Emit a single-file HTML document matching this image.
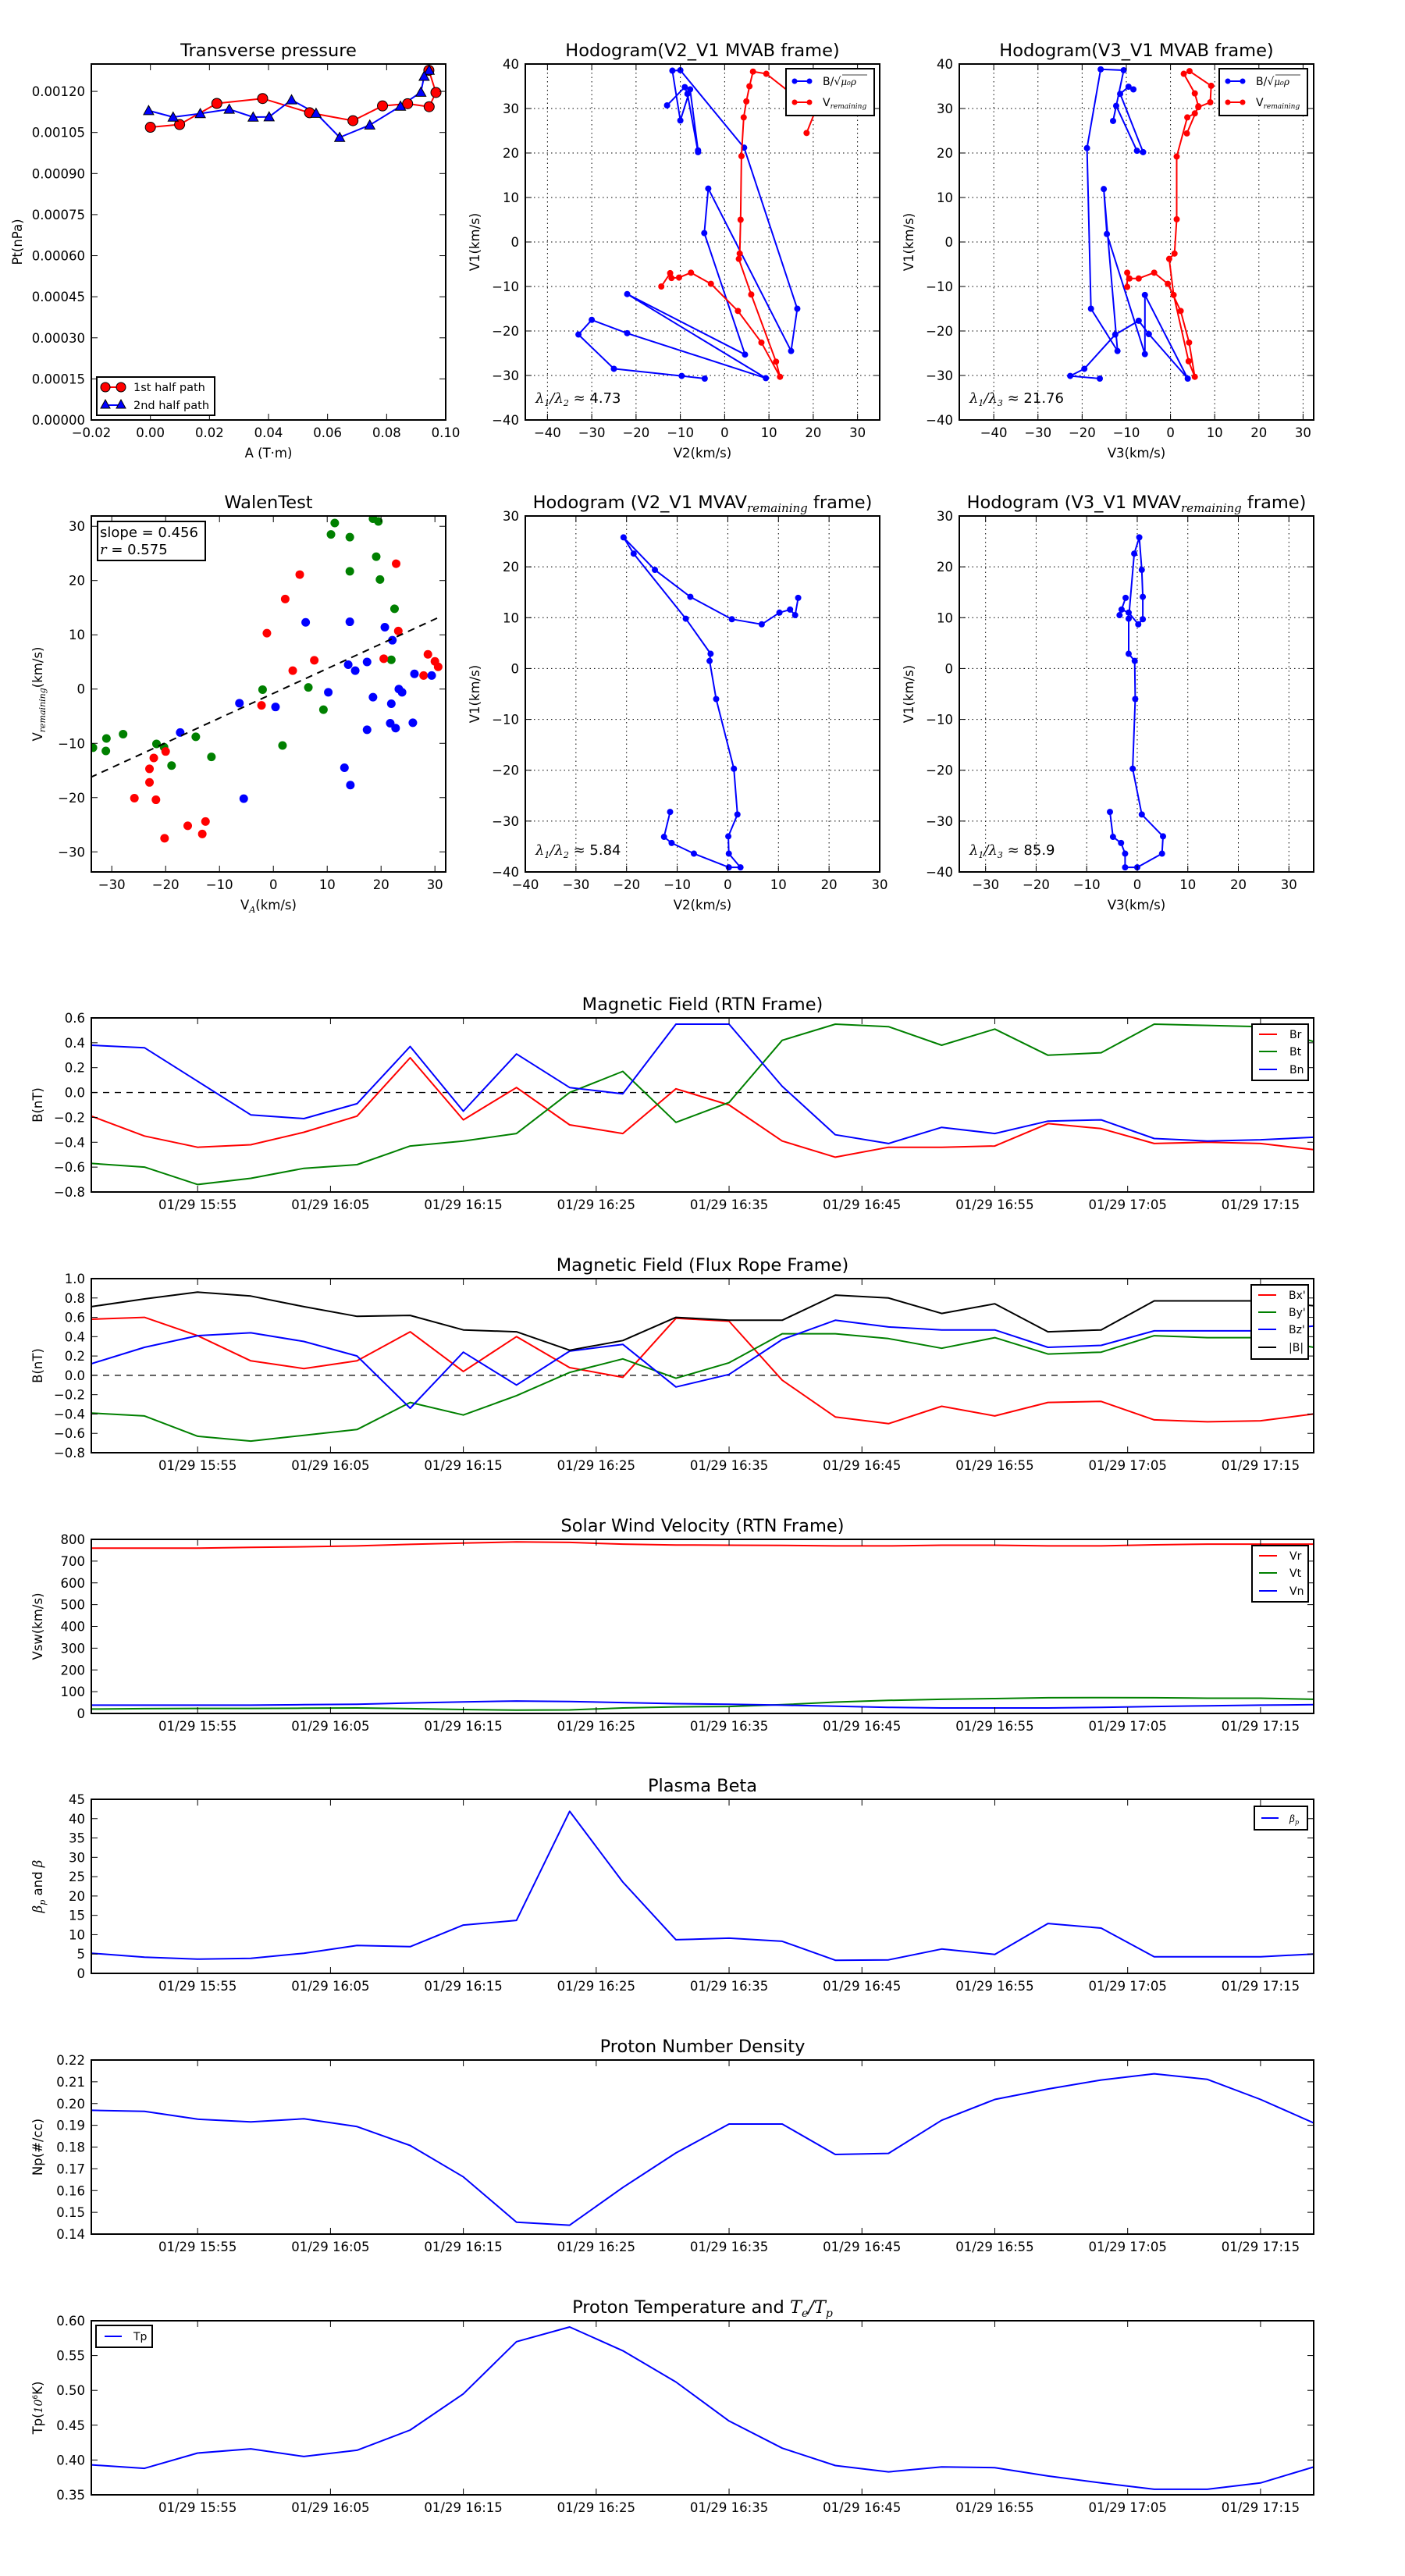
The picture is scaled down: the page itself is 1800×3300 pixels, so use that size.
<!DOCTYPE html>
<html>
<head>
<meta charset="utf-8">
<style>
html,body{margin:0;padding:0;background:#fff;}
svg{display:block;}
text{font-family:"DejaVu Sans","Liberation Sans",sans-serif;fill:#000;}
.m{font-family:"DejaVu Serif","Liberation Serif",serif;font-style:italic;}
</style>
</head>
<body>
<svg id="fig" xmlns="http://www.w3.org/2000/svg" width="1800" height="3300" viewBox="0 0 1800 3300">
<rect x="0" y="0" width="1800" height="3300" fill="#fff"/>
</svg>
<script>
// ---------- data: transverse pressure ----------
const tpA1 = [0, 0.0099, 0.0225, 0.038, 0.0539, 0.0686, 0.0786, 0.0871, 0.0944, 0.0967, 0.0943];
const tpP1 = [0.001069, 0.001079, 0.001156, 0.001174, 0.001122, 0.001093, 0.001147, 0.001155, 0.001144, 0.001196, 0.001277];
const tpA2 = [0.0944, 0.0927, 0.0916, 0.0847, 0.0743, 0.0641, 0.0561, 0.0478, 0.0402, 0.0348, 0.0267, 0.0169, 0.0077, -0.0006];
const tpP2 = [0.001277, 0.001255, 0.001197, 0.001146, 0.001077, 0.001032, 0.00112, 0.001169, 0.001107, 0.001106, 0.001135, 0.001119, 0.001106, 0.00113];
const tpXTicks = [-0.02, 0, 0.02, 0.04, 0.06, 0.08, 0.10];
const tpXLabels = ["\u22120.02", "0.00", "0.02", "0.04", "0.06", "0.08", "0.10"];
const tpYTicks = [0, 0.00015, 0.0003, 0.00045, 0.0006, 0.00075, 0.0009, 0.00105, 0.0012];
const tpYLabels = ["0.00000", "0.00015", "0.00030", "0.00045", "0.00060", "0.00075", "0.00090", "0.00105", "0.00120"];

// ---------- data: hodogram V2-V1 MVAB ----------
const h1BV2 = [-4.5, -9.7, -25, -33, -30, -22, 9.3, -22, 4.6, -4.6, -3.7, 15, 16.4, 4.4, -10, -11.8, -10, -7.8, -6, -6, -8.4, -9, -13];
const h1BV1 = [-30.7, -30.1, -28.5, -20.8, -17.5, -20.5, -30.6, -11.7, -25.3, 2, 12, -24.5, -15, 21.2, 38.6, 38.5, 27.3, 34.3, 20.6, 20.2, 33.3, 34.8, 30.7];
const h1VV2 = [-14.3, -12.3, -12, -10.3, -7.6, -3.1, 3, 8.3, 12.5, 11.6, 6, 3.2, 3.4, 3.6, 3.8, 4.3, 4.9, 5.6, 6.4, 9.4, 14.5, 20.5, 18.5];
const h1VV1 = [-10, -7, -8.1, -8, -6.9, -9.4, -15.5, -22.6, -30.3, -26.9, -11.8, -3.8, -2.6, 5, 19.3, 28, 31.6, 35, 38.3, 37.8, 33.8, 29.5, 24.5];

// ---------- data: hodogram V3-V1 MVAB ----------
const h2BV3 = [-16, -22.7, -19.5, -12.5, -7.2, -4.9, 3.9, -5.8, -5.8, -14.4, -15.1, -12, -18, -18.9, -15.8, -10.6, -13, -12.3, -7.6, -6.2, -11.4, -9.5, -8.4];
const h2BV1 = [-30.7, -30.1, -28.5, -20.8, -17.7, -20.7, -30.7, -11.9, -25.2, 1.8, 11.9, -24.5, -15, 21.1, 38.8, 38.6, 27.2, 30.6, 20.5, 20.2, 33.3, 34.9, 34.3];
const h2VV3 = [-9.8, -9.8, -9.3, -7.2, -3.7, -0.6, 2.3, 4.2, 5.5, 4.1, 0.7, -0.3, 0.9, 1.4, 1.4, 3.8, 5.5, 6.3, 9, 9.2, 4.3, 3, 5.5, 6.3, 3.7];
const h2VV1 = [-10.1, -6.9, -8.2, -8.2, -6.9, -9.4, -15.5, -22.6, -30.3, -26.8, -11.9, -3.8, -2.6, 5.1, 19.2, 28, 28.9, 30.3, 31.4, 35.1, 38.4, 37.8, 33.4, 30.5, 24.4];

// ---------- data: Walen test ----------
const wRedX = [-1.2, 2.2, 4.9, 7.6, 3.6, -2.2, 22.8, 23.2, 20.5, 28.7, 30, 30.6, 27.9, -20, -22.2, -23, -23, -25.8, -21.8, -20.2, -15.9, -13.2, -12.6];
const wRedY = [10.3, 16.6, 21.1, 5.3, 3.4, -3.0, 23.1, 10.7, 5.6, 6.4, 5.1, 4.1, 2.5, -11.5, -12.7, -14.7, -17.2, -20.1, -20.4, -27.5, -25.2, -26.7, -24.4];
const wBlueX = [6, 14.2, 20.7, 22.1, 17.4, 13.9, 15.2, 26.2, 29.4, 23.3, 23.9, 10.2, 18.5, 21.9, 0.4, -6.3, 17.4, 21.7, 22.7, 25.9, -17.3, 13.2, 14.3, -5.5];
const wBlueY = [12.3, 12.4, 11.4, 9, 5, 4.5, 3.4, 2.8, 2.5, 0, -0.6, -0.6, -1.5, -2.7, -3.3, -2.6, -7.5, -6.3, -7.2, -6.2, -8, -14.5, -17.7, -20.2];
const wGreenX = [11.4, 10.7, 14.2, 18.5, 19.5, 19.1, 14.2, 19.8, 22.5, 21.9, 6.5, -2, 9.3, 1.7, -14.4, -11.5, -18.9, -21.7, -20.3, -27.9, -31, -31.1, -33.5];
const wGreenY = [30.6, 28.5, 28, 31.4, 30.9, 24.4, 21.7, 20.2, 14.8, 5.4, 0.3, -0.1, -3.8, -10.4, -8.8, -12.5, -14.1, -10.1, -10.7, -8.3, -9.1, -11.4, -10.8];
const wSlope = [0.456];
const wIntercept = [-0.79];
const wR = [0.575];

// ---------- data: hodograms MVAV remaining ----------
const h3V2 = [-11.4, -12.6, -11.1, -6.7, 0.2, 2.5, 0.2, 0.1, 1.9, 1.2, -2.3, -3.6, -3.4, -8.3, -18.6, -20.6, -14.4, -7.4, 0.8, 6.7, 10.2, 12.3, 13.3, 13.9];
const h3V1 = [-28.2, -33.1, -34.3, -36.4, -39.1, -39.1, -36.4, -33, -28.7, -19.7, -6, 1.5, 2.9, 9.8, 22.6, 25.8, 19.4, 14.1, 9.7, 8.7, 11, 11.6, 10.5, 13.9];
const h4V3 = [-5.4, -4.8, -3.2, -2.4, -2.4, 0, 4.9, 5.1, 0.9, -0.9, -0.4, -0.5, -1.7, -1.7, -0.6, 0.4, 0.9, 1.1, 1.1, 0.2, -1.7, -3.1, -3.5, -2.3];
const h4V1 = [-28.2, -33.1, -34.3, -36.4, -39.1, -39.1, -36.4, -33, -28.7, -19.7, -6, 1.5, 2.9, 9.8, 22.6, 25.8, 19.4, 14.1, 9.7, 8.7, 11, 11.6, 10.5, 13.9];

// ---------- data: time series ----------
const tsTimes = ["15:47","15:51","15:55","15:59","16:03","16:07","16:11","16:15","16:19","16:23","16:27","16:31","16:35","16:39","16:43","16:47","16:51","16:55","16:59","17:03","17:07","17:11","17:15","17:19"];
const tsTickTimes = ["15:55","16:05","16:15","16:25","16:35","16:45","16:55","17:05","17:15"];
const Br = [-0.19,-0.35,-0.44,-0.42,-0.32,-0.19,0.28,-0.22,0.04,-0.26,-0.33,0.03,-0.10,-0.39,-0.52,-0.44,-0.44,-0.43,-0.25,-0.29,-0.41,-0.40,-0.41,-0.46];
const Bt = [-0.57,-0.60,-0.74,-0.69,-0.61,-0.58,-0.43,-0.39,-0.33,0.0,0.17,-0.24,-0.08,0.42,0.55,0.53,0.38,0.51,0.30,0.32,0.55,0.54,0.53,0.41];
const Bn = [0.38,0.36,0.09,-0.18,-0.21,-0.09,0.37,-0.15,0.31,0.04,-0.01,0.55,0.55,0.05,-0.34,-0.41,-0.28,-0.33,-0.23,-0.22,-0.37,-0.39,-0.38,-0.36];
const Bxp = [0.58,0.60,0.41,0.15,0.07,0.15,0.45,0.04,0.40,0.08,-0.02,0.59,0.56,-0.05,-0.43,-0.50,-0.32,-0.42,-0.28,-0.27,-0.46,-0.48,-0.47,-0.40];
const Byp = [-0.39,-0.42,-0.63,-0.68,-0.62,-0.56,-0.28,-0.41,-0.21,0.03,0.17,-0.03,0.13,0.43,0.43,0.38,0.28,0.39,0.22,0.24,0.41,0.39,0.39,0.29];
const Bzp = [0.12,0.29,0.41,0.44,0.35,0.20,-0.34,0.24,-0.10,0.25,0.32,-0.12,0.01,0.37,0.57,0.50,0.47,0.47,0.29,0.31,0.46,0.46,0.46,0.51];
const Bmag = [0.71,0.79,0.86,0.82,0.71,0.61,0.62,0.47,0.45,0.26,0.36,0.60,0.57,0.57,0.83,0.80,0.64,0.74,0.45,0.47,0.77,0.77,0.77,0.72];
const Vr = [760,760,760,763,766,770,777,783,788,786,778,774,773,772,770,770,773,773,770,770,775,778,778,778];
const Vt = [20,22,23,23,24,25,22,18,15,16,25,30,32,40,52,60,65,68,72,73,72,70,70,65];
const Vn = [38,38,38,38,40,42,48,53,57,55,50,45,42,38,33,28,25,25,25,28,32,35,38,40];
const betaP = [5.2,4.2,3.7,3.9,5.2,7.2,6.9,12.5,13.7,41.9,23.6,8.7,9.1,8.3,3.4,3.5,6.3,4.9,12.9,11.7,4.3,4.3,4.3,5.0];
const Np = [0.1969,0.1964,0.1928,0.1916,0.1930,0.1894,0.1807,0.1663,0.1455,0.1441,0.1614,0.1773,0.1906,0.1906,0.1766,0.1771,0.1923,0.2019,0.2067,0.2108,0.2137,0.2111,0.2019,0.1911];
const Tp = [0.393,0.388,0.410,0.416,0.405,0.414,0.443,0.495,0.570,0.591,0.557,0.512,0.456,0.417,0.392,0.383,0.390,0.389,0.377,0.367,0.358,0.358,0.367,0.390];

const rtnTicks = [-0.8,-0.6,-0.4,-0.2,0,0.2,0.4,0.6];
const rtnLabels = ["\u22120.8","\u22120.6","\u22120.4","\u22120.2","0.0","0.2","0.4","0.6"];
const frTicks = [-0.8,-0.6,-0.4,-0.2,0,0.2,0.4,0.6,0.8,1.0];
const frLabels = ["\u22120.8","\u22120.6","\u22120.4","\u22120.2","0.0","0.2","0.4","0.6","0.8","1.0"];
const swTicks = [0,100,200,300,400,500,600,700,800];
const swLabels = ["0","100","200","300","400","500","600","700","800"];
const betaTicks = [0,5,10,15,20,25,30,35,40,45];
const betaLabels = ["0","5","10","15","20","25","30","35","40","45"];
const npTicks = [0.14,0.15,0.16,0.17,0.18,0.19,0.20,0.21,0.22];
const npLabels = ["0.14","0.15","0.16","0.17","0.18","0.19","0.20","0.21","0.22"];
const tpTicks = [0.35,0.40,0.45,0.50,0.55,0.60];
const tpLabels = ["0.35","0.40","0.45","0.50","0.55","0.60"];

// ---------- layout ----------
const R1Y = 82, R2Y = 661, RH = 456, CW = 454;

// ---------- drawing ----------
const NS = "http://www.w3.org/2000/svg";
const svg = document.getElementById("fig");
let clipId = 0;

function add(parent, tag, attrs, name) {
  const e = document.createElementNS(NS, tag);
  for (const k in attrs) e.setAttribute(k, attrs[k]);
  
  
  parent.appendChild(e);
  return e;
}
function txt(parent, x, y, s, size, anchor, name, extra) {
  const a = {x: x, y: y, "font-size": size, "text-anchor": anchor || "middle"};
  if (extra) for (const k in extra) a[k] = extra[k];
  const t = add(parent, "text", a, name);
  t.textContent = s;
  return t;
}
function tsp(parent, s, attrs, name) {
  const t = add(parent, "tspan", attrs || {}, name);
  t.textContent = s;
  return t;
}
function lin(d0, d1, r0, r1) { return v => r0 + (v - d0) / (d1 - d0) * (r1 - r0); }
function toMin(s) { const p = s.split(":"); return (+p[0]) * 60 + (+p[1]); }

function makeAxes(name, x0, y0, w, h, xmin, xmax, ymin, ymax) {
  const g = add(svg, "g", {}, name);
  const sx = lin(xmin, xmax, x0, x0 + w);
  const sy = lin(ymin, ymax, y0 + h, y0);
  const id = "clip" + (clipId++);
  const cp = add(g, "clipPath", {id: id}, name + "-clip");
  add(cp, "rect", {x: x0, y: y0, width: w, height: h}, name + "-clip-rect");
  const plot = add(g, "g", {"clip-path": "url(#" + id + ")"}, name + "-plot-area");
  return {g, plot, sx, sy, x0, y0, w, h};
}
function frame(ax, name) {
  add(ax.g, "rect", {x: ax.x0, y: ax.y0, width: ax.w, height: ax.h, fill: "none", stroke: "#000", "stroke-width": 2}, name);
}
function xTicks(ax, vals, labels, name, grid) {
  vals.forEach((v, i) => {
    const x = ax.sx(v);
    if (grid) add(ax.plot, "line", {x1: x, y1: ax.y0, x2: x, y2: ax.y0 + ax.h, stroke: "#000", "stroke-width": 1, "stroke-dasharray": "1.5,4"}, name + "-grid");
    add(ax.g, "line", {x1: x, y1: ax.y0 + ax.h, x2: x, y2: ax.y0 + ax.h - 8, stroke: "#000", "stroke-width": 1}, name + "-tick");
    add(ax.g, "line", {x1: x, y1: ax.y0, x2: x, y2: ax.y0 + 8, stroke: "#000", "stroke-width": 1}, name + "-tick-top");
    txt(ax.g, x, ax.y0 + ax.h + 22, labels[i], 16.5, "middle", name + "-label");
  });
}
function yTicks(ax, vals, labels, name, grid) {
  vals.forEach((v, i) => {
    const y = ax.sy(v);
    if (grid) add(ax.plot, "line", {x1: ax.x0, y1: y, x2: ax.x0 + ax.w, y2: y, stroke: "#000", "stroke-width": 1, "stroke-dasharray": "1.5,4"}, name + "-grid");
    add(ax.g, "line", {x1: ax.x0, y1: y, x2: ax.x0 + 8, y2: y, stroke: "#000", "stroke-width": 1}, name + "-tick");
    add(ax.g, "line", {x1: ax.x0 + ax.w, y1: y, x2: ax.x0 + ax.w - 8, y2: y, stroke: "#000", "stroke-width": 1}, name + "-tick-right");
    txt(ax.g, ax.x0 - 8, y + 6, labels[i], 16.5, "end", name + "-label");
  });
}
function poly(ax, xs, ys, color, name, width) {
  const pts = xs.map((x, i) => ax.sx(x).toFixed(1) + "," + ax.sy(ys[i]).toFixed(1)).join(" ");
  return add(ax.plot, "polyline", {points: pts, fill: "none", stroke: color, "stroke-width": width || 2, "stroke-linejoin": "round"}, name);
}
function dots(ax, xs, ys, color, r, name, stroke) {
  xs.forEach((x, i) => {
    const a = {cx: ax.sx(x), cy: ax.sy(ys[i]), r: r, fill: color};
    if (stroke) { a.stroke = stroke; a["stroke-width"] = 1; }
    add(ax.plot, "circle", a, name);
  });
}
function tris(ax, xs, ys, color, s, name) {
  xs.forEach((x, i) => {
    const cx = ax.sx(x), cy = ax.sy(ys[i]);
    const pts = `${cx},${cy - s} ${cx - s},${cy + s * 0.8} ${cx + s},${cy + s * 0.8}`;
    add(ax.plot, "polygon", {points: pts, fill: color, stroke: "#000", "stroke-width": 1}, name);
  });
}
function title(ax, s, name) {
  return txt(ax.g, ax.x0 + ax.w / 2, ax.y0 - 10, s, 22.5, "middle", name);
}
function ylabel(ax, cx, s, name) {
  const cy = ax.y0 + ax.h / 2;
  return txt(ax.g, cx + 6, cy, s, 16.5, "middle", name, {transform: `rotate(-90 ${cx + 6} ${cy})`});
}
function xlabel(ax, s, name) {
  return txt(ax.g, ax.x0 + ax.w / 2, ax.y0 + ax.h + 48, s, 16.5, "middle", name);
}
function legendBox(parent, x, y, w, h, name) {
  return add(parent, "rect", {x: x, y: y, width: w, height: h, fill: "#fff", stroke: "#000", "stroke-width": 2}, name);
}

// ===== Transverse pressure =====
(function () {
  const ax = makeAxes("transverse-pressure-chart", 117, R1Y, CW, RH, -0.02, 0.10, 0, 0.0013);
  poly(ax, tpA1, tpP1, "#ff0000", "first-half-line", 2);
  poly(ax, tpA2, tpP2, "#0000ff", "second-half-line", 2);
  dots(ax, tpA1, tpP1, "#ff0000", 6.5, "first-half-point", "#000");
  tris(ax, tpA2, tpP2, "#0000ff", 6.5, "second-half-point");
  xTicks(ax, tpXTicks, tpXLabels, "tp-x-tick");
  yTicks(ax, tpYTicks, tpYLabels, "tp-y-tick");
  frame(ax, "tp-frame");
  title(ax, "Transverse pressure", "tp-title");
  xlabel(ax, "A (T\u00b7m)", "tp-x-axis-title");
  ylabel(ax, 22, "Pt(nPa)", "tp-y-axis-title");
  const b = R1Y + RH;
  const lg = add(ax.g, "g", {}, "tp-legend");
  legendBox(lg, 124, b - 55, 151, 49, "tp-legend-box");
  const r1 = b - 42, r2 = b - 19;
  add(lg, "line", {x1: 135, y1: r1, x2: 155, y2: r1, stroke: "#ff0000", "stroke-width": 2}, "legend-line-first");
  add(lg, "circle", {cx: 135, cy: r1, r: 6, fill: "#ff0000", stroke: "#000", "stroke-width": 1}, "legend-marker-first");
  add(lg, "circle", {cx: 155, cy: r1, r: 6, fill: "#ff0000", stroke: "#000", "stroke-width": 1}, "legend-marker-first");
  txt(lg, 171, r1 + 5, "1st half path", 14.5, "start", "legend-label-first");
  add(lg, "line", {x1: 135, y1: r2, x2: 155, y2: r2, stroke: "#0000ff", "stroke-width": 2}, "legend-line-second");
  add(lg, "polygon", {points: `135,${r2 - 7} 129,${r2 + 4} 141,${r2 + 4}`, fill: "#0000ff", stroke: "#000", "stroke-width": 1}, "legend-marker-second");
  add(lg, "polygon", {points: `155,${r2 - 7} 149,${r2 + 4} 161,${r2 + 4}`, fill: "#0000ff", stroke: "#000", "stroke-width": 1}, "legend-marker-second");
  txt(lg, 171, r2 + 5, "2nd half path", 14.5, "start", "legend-label-second");
})();

function hodoLegend(ax, bx, name) {
  const lg = add(ax.g, "g", {}, name);
  const by = ax.y0 + 6;
  legendBox(lg, bx, by, 113, 60, name + "-box");
  const r1 = by + 16, r2 = by + 43;
  add(lg, "line", {x1: bx + 11, y1: r1, x2: bx + 30, y2: r1, stroke: "#0000ff", "stroke-width": 2}, "legend-line-b");
  add(lg, "circle", {cx: bx + 11, cy: r1, r: 3.5, fill: "#0000ff"}, "legend-marker-b");
  add(lg, "circle", {cx: bx + 30, cy: r1, r: 3.5, fill: "#0000ff"}, "legend-marker-b");
  const t1 = txt(lg, bx + 47, r1 + 5, "B/\u221a", 14, "start", "legend-label-b");
  tsp(t1, "\u03bc\u2080\u03c1", {class: "m", "font-size": 12}, "legend-label-b-math");
  add(lg, "line", {x1: bx + 72, y1: r1 - 8, x2: bx + 104, y2: r1 - 8, stroke: "#000", "stroke-width": 0.8}, "legend-sqrt-bar");
  add(lg, "line", {x1: bx + 11, y1: r2, x2: bx + 30, y2: r2, stroke: "#ff0000", "stroke-width": 2}, "legend-line-v");
  add(lg, "circle", {cx: bx + 11, cy: r2, r: 3.5, fill: "#ff0000"}, "legend-marker-v");
  add(lg, "circle", {cx: bx + 30, cy: r2, r: 3.5, fill: "#ff0000"}, "legend-marker-v");
  const t2 = txt(lg, bx + 47, r2 + 5, "V", 14, "start", "legend-label-v");
  tsp(t2, "remaining", {class: "m", "font-size": 9, dy: 3}, "legend-label-v-sub");
}
function lambdaText(ax, a, b, val, name) {
  const y = ax.y0 + ax.h - 22;
  const t = txt(ax.g, ax.x0 + 13, y, "", 18, "start", name);
  tsp(t, "\u03bb", {class: "m"}, name + "-l1");
  tsp(t, a, {"font-size": 11, dy: 4, class: "m"}, name + "-s1");
  tsp(t, "/\u03bb", {class: "m", dy: -4}, name + "-l2");
  tsp(t, b, {"font-size": 11, dy: 4, class: "m"}, name + "-s2");
  tsp(t, " \u2248 " + val, {dy: -4}, name + "-val");
}

// ===== Hodogram V2-V1 MVAB =====
(function () {
  const ax = makeAxes("hodogram-v2-v1-mvab", 673, R1Y, CW, RH, -45, 35, -40, 40);
  xTicks(ax, [-40,-30,-20,-10,0,10,20,30], ["\u221240","\u221230","\u221220","\u221210","0","10","20","30"], "h1-x-tick", true);
  yTicks(ax, [-40,-30,-20,-10,0,10,20,30,40], ["\u221240","\u221230","\u221220","\u221210","0","10","20","30","40"], "h1-y-tick", true);
  poly(ax, h1BV2, h1BV1, "#0000ff", "h1-b-path", 2);
  dots(ax, h1BV2, h1BV1, "#0000ff", 4, "h1-b-point");
  poly(ax, h1VV2, h1VV1, "#ff0000", "h1-v-path", 2);
  dots(ax, h1VV2, h1VV1, "#ff0000", 4, "h1-v-point");
  frame(ax, "h1-frame");
  title(ax, "Hodogram(V2_V1 MVAB frame)", "h1-title");
  xlabel(ax, "V2(km/s)", "h1-x-axis-title");
  ylabel(ax, 608, "V1(km/s)", "h1-y-axis-title");
  hodoLegend(ax, 1007, "h1-legend");
  lambdaText(ax, "1", "2", "4.73", "h1-eigen-ratio");
})();

// ===== Hodogram V3-V1 MVAB =====
(function () {
  const ax = makeAxes("hodogram-v3-v1-mvab", 1229, R1Y, CW, RH, -47.8, 32.4, -40, 40);
  xTicks(ax, [-40,-30,-20,-10,0,10,20,30], ["\u221240","\u221230","\u221220","\u221210","0","10","20","30"], "h2-x-tick", true);
  yTicks(ax, [-40,-30,-20,-10,0,10,20,30,40], ["\u221240","\u221230","\u221220","\u221210","0","10","20","30","40"], "h2-y-tick", true);
  poly(ax, h2BV3, h2BV1, "#0000ff", "h2-b-path", 2);
  dots(ax, h2BV3, h2BV1, "#0000ff", 4, "h2-b-point");
  poly(ax, h2VV3, h2VV1, "#ff0000", "h2-v-path", 2);
  dots(ax, h2VV3, h2VV1, "#ff0000", 4, "h2-v-point");
  frame(ax, "h2-frame");
  title(ax, "Hodogram(V3_V1 MVAB frame)", "h2-title");
  xlabel(ax, "V3(km/s)", "h2-x-axis-title");
  ylabel(ax, 1164, "V1(km/s)", "h2-y-axis-title");
  hodoLegend(ax, 1562, "h2-legend");
  lambdaText(ax, "1", "3", "21.76", "h2-eigen-ratio");
})();

// ===== Walen test =====
(function () {
  const ax = makeAxes("walen-test", 117, R2Y, CW, RH, -33.8, 32, -33.7, 31.9);
  xTicks(ax, [-30,-20,-10,0,10,20,30], ["\u221230","\u221220","\u221210","0","10","20","30"], "walen-x-tick");
  yTicks(ax, [-30,-20,-10,0,10,20,30], ["\u221230","\u221220","\u221210","0","10","20","30"], "walen-y-tick");
  dots(ax, wGreenX, wGreenY, "#008000", 5.5, "walen-point-green");
  dots(ax, wRedX, wRedY, "#ff0000", 5.5, "walen-point-red");
  dots(ax, wBlueX, wBlueY, "#0000ff", 5.5, "walen-point-blue");
  const xa = -34, xb = 30.5;
  add(ax.plot, "line", {x1: ax.sx(xa), y1: ax.sy(wSlope[0] * xa + wIntercept[0]), x2: ax.sx(xb), y2: ax.sy(wSlope[0] * xb + wIntercept[0]), stroke: "#000", "stroke-width": 2, "stroke-dasharray": "9,7"}, "walen-fit-line");
  frame(ax, "walen-frame");
  title(ax, "WalenTest", "walen-title");
  const xl = txt(ax.g, ax.x0 + ax.w / 2, ax.y0 + ax.h + 48, "V", 16.5, "middle", "walen-x-axis-title");
  tsp(xl, "A", {class: "m", "font-size": 11, dy: 4}, "walen-x-axis-sub");
  tsp(xl, "(km/s)", {dy: -4}, "walen-x-axis-unit");
  const cy = ax.y0 + ax.h / 2;
  const yl = txt(ax.g, 54, cy, "V", 16.5, "middle", "walen-y-axis-title", {transform: `rotate(-90 54 ${cy})`});
  tsp(yl, "remaining", {class: "m", "font-size": 11, dy: 4}, "walen-y-axis-sub");
  tsp(yl, "(km/s)", {dy: -4}, "walen-y-axis-unit");
  const bx = add(ax.g, "g", {}, "walen-stats-box");
  const by = ax.y0 + 7;
  legendBox(bx, 125, by, 138, 50, "walen-stats-frame");
  txt(bx, 128, by + 20, "slope = " + wSlope[0].toFixed(3), 18, "start", "walen-slope-text");
  const rt = txt(bx, 128, by + 42, "", 18, "start", "walen-r-text");
  tsp(rt, "r", {class: "m"}, "walen-r-symbol");
  tsp(rt, " = " + wR[0].toFixed(3), {}, "walen-r-value");
})();

// ===== Hodogram MVAV remaining =====
function mvavTitle(ax, pre, name) {
  const t = txt(ax.g, ax.x0 + ax.w / 2, ax.y0 - 10, pre, 22.5, "middle", name);
  tsp(t, "remaining", {class: "m", "font-size": 15, dy: 5}, name + "-sub");
  tsp(t, " frame)", {dy: -5}, name + "-end");
}
(function () {
  const ax = makeAxes("hodogram-v2-v1-mvav", 673, R2Y, CW, RH, -40, 30, -40, 30);
  xTicks(ax, [-40,-30,-20,-10,0,10,20,30], ["\u221240","\u221230","\u221220","\u221210","0","10","20","30"], "h3-x-tick", true);
  yTicks(ax, [-40,-30,-20,-10,0,10,20,30], ["\u221240","\u221230","\u221220","\u221210","0","10","20","30"], "h3-y-tick", true);
  poly(ax, h3V2, h3V1, "#0000ff", "h3-path", 2);
  dots(ax, h3V2, h3V1, "#0000ff", 4, "h3-point");
  frame(ax, "h3-frame");
  mvavTitle(ax, "Hodogram (V2_V1 MVAV", "h3-title");
  xlabel(ax, "V2(km/s)", "h3-x-axis-title");
  ylabel(ax, 608, "V1(km/s)", "h3-y-axis-title");
  lambdaText(ax, "1", "2", "5.84", "h3-eigen-ratio");
})();
(function () {
  const ax = makeAxes("hodogram-v3-v1-mvav", 1229, R2Y, CW, RH, -35.2, 34.9, -40, 30);
  xTicks(ax, [-30,-20,-10,0,10,20,30], ["\u221230","\u221220","\u221210","0","10","20","30"], "h4-x-tick", true);
  yTicks(ax, [-40,-30,-20,-10,0,10,20,30], ["\u221240","\u221230","\u221220","\u221210","0","10","20","30"], "h4-y-tick", true);
  poly(ax, h4V3, h4V1, "#0000ff", "h4-path", 2);
  dots(ax, h4V3, h4V1, "#0000ff", 4, "h4-point");
  frame(ax, "h4-frame");
  mvavTitle(ax, "Hodogram (V3_V1 MVAV", "h4-title");
  xlabel(ax, "V3(km/s)", "h4-x-axis-title");
  ylabel(ax, 1164, "V1(km/s)", "h4-y-axis-title");
  lambdaText(ax, "1", "3", "85.9", "h4-eigen-ratio");
})();

// ===== Time series panels =====
const T0 = toMin(tsTimes[0]), T1 = toMin(tsTimes[tsTimes.length - 1]);
const tsMin = tsTimes.map(toMin);
function tsPanel(name, top, ymin, ymax, ticks, labels) {
  const ax = makeAxes(name, 117, top, 1566, 223, T0, T1, ymin, ymax);
  xTicks(ax, tsTickTimes.map(toMin), tsTickTimes.map(s => "01/29 " + s), name + "-x-tick");
  yTicks(ax, ticks, labels, name + "-y-tick");
  return ax;
}
function zeroLine(ax, name) {
  add(ax.plot, "line", {x1: ax.x0, y1: ax.sy(0), x2: ax.x0 + ax.w, y2: ax.sy(0), stroke: "#000", "stroke-width": 1.3, "stroke-dasharray": "8,7"}, name);
}
function tsLegend(ax, x, y, w, h, rows, entries, name) {
  const lg = add(ax.g, "g", {}, name);
  legendBox(lg, x, y, w, h, name + "-box");
  entries.forEach((e, i) => {
    add(lg, "line", {x1: x + 9, y1: rows[i], x2: x + 32, y2: rows[i], stroke: e[0], "stroke-width": 2}, "legend-line-" + e[2]);
    txt(lg, x + 48, rows[i] + 5, e[1], 14, "start", "legend-label-" + e[2]);
  });
  return lg;
}

(function () {
  const ax = tsPanel("magnetic-field-rtn", 1304, -0.8, 0.6, rtnTicks, rtnLabels);
  zeroLine(ax, "rtn-zero-line");
  poly(ax, tsMin, Br, "#ff0000", "br-line");
  poly(ax, tsMin, Bt, "#008000", "bt-line");
  poly(ax, tsMin, Bn, "#0000ff", "bn-line");
  frame(ax, "rtn-frame");
  title(ax, "Magnetic Field (RTN Frame)", "rtn-title");
  ylabel(ax, 48, "B(nT)", "rtn-y-axis-title");
  tsLegend(ax, 1604, 1312, 72, 72, [1325, 1347, 1370], [["#ff0000","Br","br"],["#008000","Bt","bt"],["#0000ff","Bn","bn"]], "rtn-legend");
})();
(function () {
  const ax = tsPanel("magnetic-field-flux-rope", 1638, -0.8, 1.0, frTicks, frLabels);
  zeroLine(ax, "fr-zero-line");
  poly(ax, tsMin, Bxp, "#ff0000", "bx-line");
  poly(ax, tsMin, Byp, "#008000", "by-line");
  poly(ax, tsMin, Bzp, "#0000ff", "bz-line");
  poly(ax, tsMin, Bmag, "#000000", "bmag-line");
  frame(ax, "fr-frame");
  title(ax, "Magnetic Field (Flux Rope Frame)", "fr-title");
  ylabel(ax, 48, "B(nT)", "fr-y-axis-title");
  tsLegend(ax, 1603, 1646, 73, 95, [1659, 1681, 1703, 1726], [["#ff0000","Bx'","bx"],["#008000","By'","by"],["#0000ff","Bz'","bz"],["#000000","|B|","bmag"]], "fr-legend");
})();
(function () {
  const ax = tsPanel("solar-wind-velocity", 1972, 0, 800, swTicks, swLabels);
  poly(ax, tsMin, Vr, "#ff0000", "vr-line");
  poly(ax, tsMin, Vt, "#008000", "vt-line");
  poly(ax, tsMin, Vn, "#0000ff", "vn-line");
  frame(ax, "sw-frame");
  title(ax, "Solar Wind Velocity (RTN Frame)", "sw-title");
  ylabel(ax, 48, "Vsw(km/s)", "sw-y-axis-title");
  tsLegend(ax, 1604, 1980, 72, 72, [1993, 2015, 2038], [["#ff0000","Vr","vr"],["#008000","Vt","vt"],["#0000ff","Vn","vn"]], "sw-legend");
})();
(function () {
  const ax = tsPanel("plasma-beta", 2305, 0, 45, betaTicks, betaLabels);
  poly(ax, tsMin, betaP, "#0000ff", "beta-line");
  frame(ax, "beta-frame");
  title(ax, "Plasma Beta", "beta-title");
  const cy = ax.y0 + ax.h / 2;
  const yl = txt(ax.g, 54, cy, "", 16.5, "middle", "beta-y-axis-title", {transform: `rotate(-90 54 ${cy})`});
  tsp(yl, "\u03b2", {class: "m"}, "beta-y-sym");
  tsp(yl, "p", {class: "m", "font-size": 11, dy: 4}, "beta-y-sub");
  tsp(yl, " and ", {dy: -4}, "beta-y-and");
  tsp(yl, "\u03b2", {class: "m"}, "beta-y-sym2");
  const lg = add(ax.g, "g", {}, "beta-legend");
  legendBox(lg, 1607, 2314, 68, 30, "beta-legend-box");
  add(lg, "line", {x1: 1616, y1: 2329, x2: 1638, y2: 2329, stroke: "#0000ff", "stroke-width": 2}, "legend-line-beta");
  const lt = txt(lg, 1652, 2334, "", 14, "start", "legend-label-beta");
  tsp(lt, "\u03b2", {class: "m", "font-size": 12}, "legend-beta-sym");
  tsp(lt, "p", {class: "m", "font-size": 8, dy: 3}, "legend-beta-sub");
})();
(function () {
  const ax = tsPanel("proton-number-density", 2639, 0.14, 0.22, npTicks, npLabels);
  poly(ax, tsMin, Np, "#0000ff", "np-line");
  frame(ax, "np-frame");
  title(ax, "Proton Number Density", "np-title");
  ylabel(ax, 48, "Np(#/cc)", "np-y-axis-title");
})();
(function () {
  const ax = tsPanel("proton-temperature", 2973, 0.35, 0.60, tpTicks, tpLabels);
  poly(ax, tsMin, Tp, "#0000ff", "tp-line");
  frame(ax, "tp-ts-frame");
  const t = txt(ax.g, ax.x0 + ax.w / 2, ax.y0 - 10, "Proton Temperature and ", 22.5, "middle", "tp-ts-title");
  tsp(t, "T", {class: "m"}, "tp-title-te");
  tsp(t, "e", {class: "m", "font-size": 14, dy: 5}, "tp-title-e");
  tsp(t, "/", {class: "m", dy: -5}, "tp-title-slash");
  tsp(t, "T", {class: "m"}, "tp-title-tp");
  tsp(t, "p", {class: "m", "font-size": 14, dy: 5}, "tp-title-p");
  const cy = ax.y0 + ax.h / 2;
  const yl = txt(ax.g, 54, cy, "Tp(", 16.5, "middle", "tp-y-axis-title", {transform: `rotate(-90 54 ${cy})`});
  tsp(yl, "10", {class: "m", "font-style": "normal", "font-size": 14}, "tp-y-ten");
  tsp(yl, "6", {"font-size": 9, dy: -6}, "tp-y-exp");
  tsp(yl, "K)", {dy: 6}, "tp-y-unit");
  const lg = add(ax.g, "g", {}, "tp-ts-legend");
  legendBox(lg, 123, 2979, 72, 28, "tp-ts-legend-box");
  add(lg, "line", {x1: 134, y1: 2993, x2: 156, y2: 2993, stroke: "#0000ff", "stroke-width": 2}, "legend-line-tp");
  txt(lg, 171, 2998, "Tp", 14, "start", "legend-label-tp");
})();
</script>
</body>
</html>
